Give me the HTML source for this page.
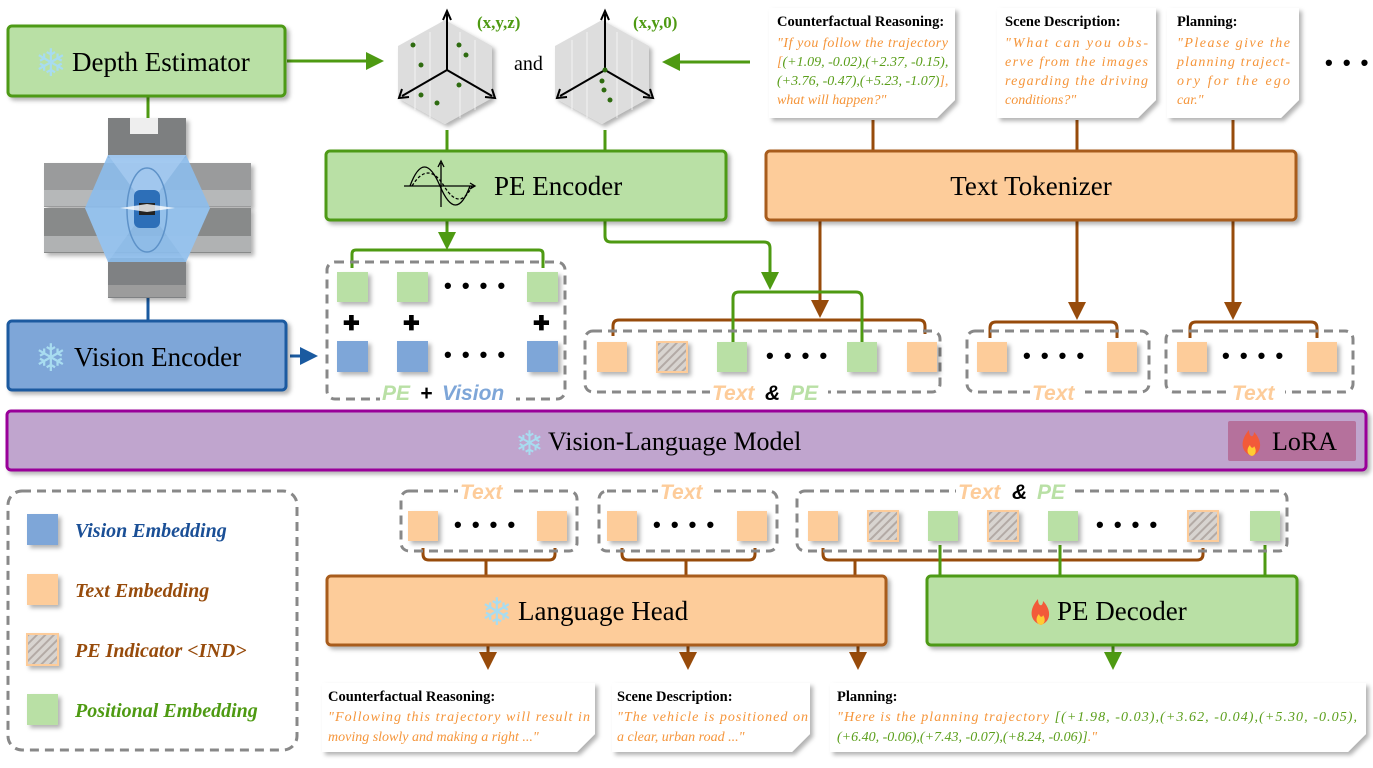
<!DOCTYPE html>
<html><head><meta charset="utf-8"><style>
html,body{margin:0;padding:0;background:#fff;width:1373px;height:768px;overflow:hidden}
svg{display:block}
.ser{font-family:"Liberation Serif",serif}
.san{font-family:"Liberation Sans",sans-serif}
.fl{font-family:"DejaVu Sans",sans-serif;fill:#a8dcf0}
</style></head><body>
<svg width="1373" height="768" viewBox="0 0 1373 768" xmlns="http://www.w3.org/2000/svg">
<defs>
<pattern id="h" width="6" height="6" patternUnits="userSpaceOnUse" patternTransform="rotate(45)">
<rect width="6" height="6" fill="#d8d4d0"/><rect width="2" height="6" fill="#b3aaa5"/></pattern>
<filter id="sh" x="-10%" y="-10%" width="130%" height="140%"><feDropShadow dx="3" dy="3" stdDeviation="2" flood-color="#000" flood-opacity="0.3"/></filter>
<marker id="ag" markerWidth="6" markerHeight="6" refX="4" refY="3" orient="auto" markerUnits="strokeWidth"><path d="M0,0 L6,3 L0,6 Z" fill="#4e9a12"/></marker>
<marker id="ab" markerWidth="6" markerHeight="6" refX="4" refY="3" orient="auto" markerUnits="strokeWidth"><path d="M0,0 L6,3 L0,6 Z" fill="#974b0b"/></marker>
<marker id="au" markerWidth="6" markerHeight="6" refX="4" refY="3" orient="auto" markerUnits="strokeWidth"><path d="M0,0 L6,3 L0,6 Z" fill="#1a5aa0"/></marker>
</defs>

<g fill="none" stroke-width="3">
<line x1="148" y1="97" x2="148" y2="118" stroke="#4e9a12"/>
<line x1="148" y1="298" x2="148" y2="320" stroke="#1a5aa0"/>
<line x1="287" y1="61" x2="378" y2="61" stroke="#4e9a12" marker-end="url(#ag)"/>
<line x1="750" y1="62" x2="668" y2="62" stroke="#4e9a12" marker-end="url(#ag)"/>
<line x1="447" y1="130" x2="447" y2="150" stroke="#4e9a12"/>
<line x1="605" y1="130" x2="605" y2="150" stroke="#4e9a12"/>
<line x1="873" y1="120" x2="873" y2="150" stroke="#974b0b"/>
<line x1="1077" y1="120" x2="1077" y2="150" stroke="#974b0b"/>
<line x1="1233" y1="120" x2="1233" y2="150" stroke="#974b0b"/>
<line x1="290" y1="356" x2="312" y2="356" stroke="#1a5aa0" marker-end="url(#au)"/>
<line x1="447" y1="220" x2="447" y2="244" stroke="#4e9a12" marker-end="url(#ag)"/>
<path d="M352,268 V254 Q352,250 356,250 H539 Q543,250 543,254 V268" stroke="#4e9a12"/>
<path d="M605,220 V236 Q605,242 611,242 H764 Q770,242 770,248 V284" stroke="#4e9a12" marker-end="url(#ag)"/>
<path d="M613,336 V326 Q613,320 619,320 H919 Q925,320 925,326 V334" stroke="#974b0b"/>
<path d="M820,220 V312" stroke="#974b0b" marker-end="url(#ab)"/>
<path d="M733,342 V298 Q733,292 739,292 H856 Q862,292 862,298 V342" stroke="#4e9a12"/>
<path d="M990,338 V328 Q990,322 996,322 H1111 Q1117,322 1117,328 V338" stroke="#974b0b"/>
<line x1="1077" y1="220" x2="1077" y2="314" stroke="#974b0b" marker-end="url(#ab)"/>
<path d="M1190,338 V328 Q1190,322 1196,322 H1311 Q1317,322 1317,328 V338" stroke="#974b0b"/>
<line x1="1233" y1="220" x2="1233" y2="314" stroke="#974b0b" marker-end="url(#ab)"/>
<path d="M423,548 V554 Q423,560 429,560 H549 Q555,560 555,554 V548" stroke="#974b0b"/>
<line x1="486" y1="560" x2="486" y2="575" stroke="#974b0b"/>
<path d="M622,548 V554 Q622,560 628,560 H749 Q755,560 755,554 V548" stroke="#974b0b"/>
<line x1="686" y1="560" x2="686" y2="575" stroke="#974b0b"/>
<path d="M823,548 V554 Q823,560 829,560 H1197 Q1203,560 1203,554 V548" stroke="#974b0b"/>
<line x1="855" y1="560" x2="855" y2="575" stroke="#974b0b"/>
<line x1="940" y1="545" x2="940" y2="575" stroke="#4e9a12"/>
<line x1="1060" y1="545" x2="1060" y2="575" stroke="#4e9a12"/>
<line x1="1265" y1="545" x2="1265" y2="575" stroke="#4e9a12"/>
<line x1="488" y1="645" x2="488" y2="664" stroke="#974b0b" marker-end="url(#ab)"/>
<line x1="688" y1="645" x2="688" y2="664" stroke="#974b0b" marker-end="url(#ab)"/>
<line x1="858" y1="645" x2="858" y2="664" stroke="#974b0b" marker-end="url(#ab)"/>
<line x1="1113" y1="645" x2="1113" y2="664" stroke="#4e9a12" marker-end="url(#ag)"/>
</g>

<g filter="url(#sh)">
<rect x="8" y="26" width="277" height="70" rx="4" fill="#b9e0a5" stroke="#4e9a12" stroke-width="3"/>
<rect x="8" y="321" width="278" height="69" rx="4" fill="#7ea6d8" stroke="#1a5aa0" stroke-width="3"/>
<rect x="326" y="151" width="400" height="69" rx="4" fill="#b9e0a5" stroke="#4e9a12" stroke-width="3"/>
<rect x="766" y="151" width="530" height="69" rx="4" fill="#fdcc9a" stroke="#a85c1a" stroke-width="3"/>
<rect x="7" y="411" width="1359" height="59" rx="4" fill="#c0a5ce" stroke="#990099" stroke-width="3"/>
<rect x="327" y="576" width="559" height="69" rx="4" fill="#fdcc9a" stroke="#a85c1a" stroke-width="3"/>
<rect x="927" y="576" width="370" height="69" rx="4" fill="#b9e0a5" stroke="#4e9a12" stroke-width="3"/>
</g>
<rect x="1228" y="421" width="128" height="40" rx="2" fill="#b5719c"/>

<g class="ser" font-size="27" fill="#000">
<text x="35" y="76" class="fl" font-size="38">❄</text>
<text x="72" y="71">Depth Estimator</text>
<text x="35" y="371" class="fl" font-size="38">❄</text>
<text x="74" y="366">Vision Encoder</text>
<text x="494" y="195">PE Encoder</text>
<text x="1031" y="195" text-anchor="middle">Text Tokenizer</text>
<text x="515" y="455" class="fl" font-size="34">❄</text>
<text x="548" y="450" font-size="26">Vision-Language Model</text>
<text x="1272" y="450" font-size="26">LoRA</text>
<text x="481" y="625" class="fl" font-size="38">❄</text>
<text x="518" y="620">Language Head</text>
<text x="1057" y="620">PE Decoder</text>
</g>
<g><path d="M1252,456 C1240,452 1240,440 1249,430 C1249,438 1254,438 1254,432 C1262,440 1263,452 1252,456Z" fill="#f25a3a"/><path d="M1252,456 C1247,455 1246,449 1250,445 C1251,449 1254,448 1254,446 C1257,450 1256,455 1252,456Z" fill="#ffcc33"/></g>
<g><path d="M1041,625 C1029,621 1029,609 1038,599 C1038,607 1043,607 1043,601 C1051,609 1052,621 1041,625Z" fill="#f25a3a"/><path d="M1041,625 C1036,624 1035,618 1039,614 C1040,618 1043,617 1043,615 C1046,619 1045,624 1041,625Z" fill="#ffcc33"/></g>
<g fill="none" stroke="#000" stroke-width="1.3">
<line x1="404" y1="186" x2="474" y2="186"/><path d="M470,183 L475,186 L470,189"/>
<line x1="441" y1="207" x2="441" y2="163"/><path d="M438,167 L441,161 L444,167"/>
<path d="M410,186 Q424,148 440,186 T470,186"/><path d="M412,186 Q428,160 444,186 T472,186" stroke-dasharray="3,2"/>
</g>

<g>
<polygon points="445,20 492,46 492,98 445,124 398,98 398,46" fill="#ddd" filter="url(#sh)"/>
<polygon points="602,20 649,46 649,98 602,124 555,98 555,46" fill="#ddd" filter="url(#sh)"/>
<g stroke="#fff" stroke-width="1" opacity="0.7">
<path d="M415,40 V110 M430,32 V118 M460,32 V118 M475,40 V110 M572,40 V110 M587,32 V118 M617,32 V118 M632,40 V110"/></g>
<g stroke="#000" stroke-width="2" fill="none">
<line x1="447" y1="70" x2="447" y2="14"/><path d="M443,20 L447,11 L451,20"/>
<line x1="447" y1="70" x2="402" y2="96"/><line x1="447" y1="70" x2="492" y2="96"/>
<path d="M402,89 L399,98 L409,97 M485,97 L495,98 L492,89"/>
<line x1="605" y1="70" x2="605" y2="14"/><path d="M601,20 L605,11 L609,20"/>
<line x1="605" y1="70" x2="560" y2="96"/><line x1="605" y1="70" x2="650" y2="96"/>
<path d="M560,89 L557,98 L567,97 M643,97 L653,98 L650,89"/>
</g>
<g fill="#2e6b10">
<circle cx="413" cy="45" r="2.5"/><circle cx="421" cy="65" r="2.5"/><circle cx="459" cy="45" r="2.5"/><circle cx="466" cy="55" r="2.5"/><circle cx="459" cy="85" r="2.5"/><circle cx="421" cy="95" r="2.5"/><circle cx="437" cy="103" r="2.5"/>
<circle cx="605" cy="70" r="2.5"/><circle cx="602" cy="81" r="2.5"/><circle cx="604" cy="90" r="2.5"/><circle cx="610" cy="100" r="2.5"/>
</g>
<text x="477" y="28" class="ser" font-size="17" font-weight="bold" fill="#4e9a12">(x,y,z)</text>
<text x="633" y="28" class="ser" font-size="17" font-weight="bold" fill="#4e9a12">(x,y,0)</text>
<text x="514" y="70" class="ser" font-size="20">and</text>
</g>

<g filter="url(#sh)">
<rect x="108" y="118" width="78" height="40" fill="#7d7f80"/>
<rect x="44" y="163" width="207" height="44" fill="#9a9b9c"/>
<rect x="44" y="208" width="207" height="45" fill="#888a8a"/>
<rect x="108" y="258" width="78" height="40" fill="#7f8183"/>
</g>
<rect x="130" y="118" width="28" height="16" fill="#eee"/>
<rect x="44" y="190" width="207" height="16" fill="#b6b8b9"/>
<rect x="44" y="236" width="207" height="16" fill="#b0b2b3"/>
<rect x="108" y="285" width="78" height="12" fill="#9c9c9c"/>
<polygon points="108,155 186,155 210,208 186,262 108,262 85,208" fill="#8cbcec" opacity="0.9"/>
<polygon points="108,155 147,208 186,155" fill="#a9cdf2" opacity="0.7"/>
<polygon points="85,208 147,208 108,262" fill="#9cc6f0" opacity="0.6"/>
<polygon points="210,208 147,208 186,262" fill="#9cc6f0" opacity="0.6"/>
<ellipse cx="147" cy="210" rx="20" ry="42" fill="none" stroke="#5e92c8" stroke-width="1.5"/>
<rect x="134" y="190" width="26" height="38" rx="6" fill="#2d6fb8"/>
<rect x="139" y="203" width="16" height="12" fill="#222"/>
<polygon points="120,208 147,204 175,208 147,212" fill="#fff" opacity="0.8"/>

<g fill="none" stroke="#888" stroke-width="3" stroke-dasharray="9,6">
<rect x="327" y="262" width="238" height="137" rx="8"/>
<rect x="585" y="331" width="355" height="61" rx="8"/>
<rect x="967" y="331" width="182" height="61" rx="8"/>
<rect x="1166" y="331" width="187" height="61" rx="8"/>
<rect x="401" y="491" width="176" height="60" rx="8"/>
<rect x="599" y="491" width="178" height="60" rx="8"/>
<rect x="797" y="491" width="490" height="60" rx="8"/>
<rect x="8" y="491" width="289" height="259" rx="14"/>
</g>

<g filter="url(#sh)">
<rect x="337" y="272" width="31" height="30" fill="#b9e0a5"/><rect x="397" y="272" width="31" height="30" fill="#b9e0a5"/><rect x="527" y="272" width="31" height="30" fill="#b9e0a5"/>
<rect x="337" y="341" width="31" height="31" fill="#7ea6d8"/><rect x="397" y="341" width="31" height="31" fill="#7ea6d8"/><rect x="527" y="341" width="31" height="31" fill="#7ea6d8"/>
<rect x="597" y="342" width="30" height="30" fill="#fdcc9a"/><rect x="657" y="342" width="30" height="30" fill="url(#h)" stroke="#fdcc9a" stroke-width="2"/><rect x="717" y="342" width="30" height="30" fill="#b9e0a5"/><rect x="847" y="342" width="30" height="30" fill="#b9e0a5"/><rect x="907" y="342" width="30" height="30" fill="#fdcc9a"/>
<rect x="977" y="342" width="30" height="30" fill="#fdcc9a"/><rect x="1107" y="342" width="30" height="30" fill="#fdcc9a"/>
<rect x="1177" y="342" width="30" height="30" fill="#fdcc9a"/><rect x="1307" y="342" width="30" height="30" fill="#fdcc9a"/>
<rect x="408" y="511" width="30" height="30" fill="#fdcc9a"/><rect x="537" y="511" width="30" height="30" fill="#fdcc9a"/>
<rect x="607" y="511" width="30" height="30" fill="#fdcc9a"/><rect x="737" y="511" width="30" height="30" fill="#fdcc9a"/>
<rect x="808" y="511" width="30" height="30" fill="#fdcc9a"/><rect x="868" y="511" width="30" height="30" fill="url(#h)" stroke="#fdcc9a" stroke-width="2"/><rect x="928" y="511" width="30" height="30" fill="#b9e0a5"/><rect x="988" y="511" width="30" height="30" fill="url(#h)" stroke="#fdcc9a" stroke-width="2"/><rect x="1048" y="511" width="30" height="30" fill="#b9e0a5"/><rect x="1188" y="511" width="30" height="30" fill="url(#h)" stroke="#fdcc9a" stroke-width="2"/><rect x="1250" y="511" width="30" height="30" fill="#b9e0a5"/>
<rect x="27" y="514" width="31" height="31" fill="#7ea6d8"/><rect x="27" y="574" width="31" height="31" fill="#fdcc9a"/><rect x="27" y="634" width="31" height="31" fill="url(#h)" stroke="#fdcc9a" stroke-width="2"/><rect x="27" y="694" width="31" height="31" fill="#b9e0a5"/>
</g>
<g class="san" font-size="22" font-weight="bold" fill="#000" letter-spacing="2">
<text x="444" y="293">• • • •</text><text x="444" y="362">• • • •</text>
<text x="766" y="363">• • • •</text><text x="1023" y="363">• • • •</text><text x="1222" y="363">• • • •</text>
<text x="454" y="532">• • • •</text><text x="653" y="532">• • • •</text><text x="1096" y="532">• • • •</text>
<text x="1325" y="70">• • •</text>
<text x="343" y="330" font-size="20">✚</text><text x="403" y="330" font-size="20">✚</text><text x="533" y="330" font-size="20">✚</text>
</g>
<g class="san" font-size="21" font-style="italic" font-weight="bold">
<rect x="380" y="381" width="136" height="24" fill="#fff"/>
<text x="382" y="400" fill="#b9e0a5">PE</text><text x="420" y="400" fill="#000">+</text><text x="442" y="400" fill="#7ea6d8">Vision</text>
<rect x="710" y="381" width="118" height="24" fill="#fff"/>
<text x="712" y="400" fill="#fdcc9a">Text</text><text x="765" y="400" fill="#000">&amp;</text><text x="790" y="400" fill="#b9e0a5">PE</text>
<rect x="1030" y="381" width="55" height="24" fill="#fff"/><text x="1032" y="400" fill="#fdcc9a">Text</text>
<rect x="1230" y="381" width="55" height="24" fill="#fff"/><text x="1232" y="400" fill="#fdcc9a">Text</text>
<rect x="458" y="480" width="56" height="24" fill="#fff"/><text x="460" y="499" fill="#fdcc9a">Text</text>
<rect x="658" y="480" width="56" height="24" fill="#fff"/><text x="660" y="499" fill="#fdcc9a">Text</text>
<rect x="956" y="480" width="118" height="24" fill="#fff"/>
<text x="958" y="499" fill="#fdcc9a">Text</text><text x="1012" y="499" fill="#000">&amp;</text><text x="1037" y="499" fill="#b9e0a5">PE</text>
</g>
<g class="ser" font-size="20" font-style="italic" font-weight="bold">
<text x="75" y="537" fill="#1a4f96">Vision Embedding</text>
<text x="75" y="597" fill="#974b0b">Text Embedding</text>
<text x="75" y="657" fill="#974b0b">PE Indicator &lt;IND&gt;</text>
<text x="75" y="717" fill="#4e9a12">Positional Embedding</text>
</g>

<g filter="url(#sh)" fill="#fff">
<path d="M769,8 H955 V100 L937,118 H769 Z"/>
<path d="M997,8 H1156 V100 L1138,118 H997 Z"/>
<path d="M1167,8 H1299 V100 L1281,118 H1167 Z"/>
<path d="M322,683 H595 V734 L577,752 H322 Z"/>
<path d="M612,683 H810 V734 L792,752 H612 Z"/>
<path d="M830,683 H1366 V734 L1348,752 H830 Z"/>
</g>
<g class="ser" font-size="14.5">
<g font-weight="bold" fill="#000">
<text x="777" y="26">Counterfactual Reasoning:</text>
<text x="1005" y="26">Scene Description:</text>
<text x="1177" y="26">Planning:</text>
<text x="328" y="701">Counterfactual Reasoning:</text>
<text x="617" y="701">Scene Description:</text>
<text x="837" y="701">Planning:</text>
</g>
<g font-style="italic" fill="#f5953a" font-size="14">
<text x="777" y="47" textLength="171">"If you follow the trajectory</text>
<text x="777" y="66" fill="#5a9e1a"><tspan fill="#f5953a">[</tspan>(+1.09, -0.02),(+2.37, -0.15),</text>
<text x="777" y="85" fill="#5a9e1a">(+3.76, -0.47),(+5.23, -1.07)<tspan fill="#f5953a">],</tspan></text>
<text x="777" y="104">what will happen?"</text>
<text x="1005" y="47" textLength="143">"What can you obs-</text>
<text x="1005" y="66" textLength="143">erve from the images</text>
<text x="1005" y="85" textLength="143">regarding the driving</text>
<text x="1005" y="104">conditions?"</text>
<text x="1177" y="47" textLength="113">"Please give the</text>
<text x="1177" y="66" textLength="113">planning traject-</text>
<text x="1177" y="85" textLength="113">ory for the ego</text>
<text x="1177" y="104">car."</text>
<text x="328" y="721" textLength="262">"Following this trajectory will result in</text>
<text x="328" y="741">moving slowly and making a right ..."</text>
<text x="617" y="721" textLength="191">"The vehicle is positioned on</text>
<text x="617" y="741">a clear, urban road ..."</text>
<text x="837" y="721" textLength="520">"Here is the planning trajectory <tspan fill="#5a9e1a">[(+1.98, -0.03),(+3.62, -0.04),(+5.30, -0.05),</tspan></text>
<text x="837" y="741"><tspan fill="#5a9e1a">(+6.40, -0.06),(+7.43, -0.07),(+8.24, -0.06)]</tspan>."</text>
</g>
</g>
</svg>
</body></html>
